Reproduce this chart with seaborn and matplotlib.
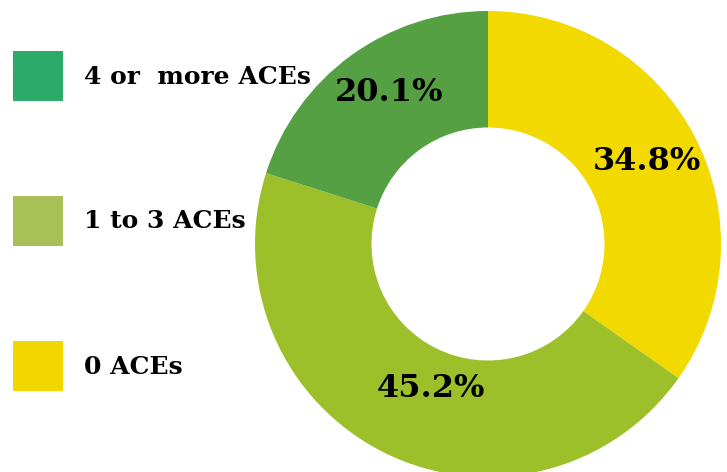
import matplotlib
matplotlib.use("Agg")
import matplotlib.pyplot as plt
from matplotlib.patches import Patch
import seaborn as sns

# Data
slice_labels = ["0 ACEs", "1 to 3 ACEs", "4 or  more ACEs"]
slice_values = [34.8, 45.2, 20.1]
slice_colors = ["#F2D900", "#9DC02A", "#55A043"]

legend_labels = ["4 or  more ACEs", "1 to 3 ACEs", "0 ACEs"]
legend_colors = ["#2BAA68", "#A9BF58", "#F2D600"]

sns.set_theme(style="white")
plt.rcParams["font.family"] = ["DejaVu Serif"]
plt.rcParams["text.color"] = "black"

W, H = 727, 472
fig = plt.figure(figsize=(W / 100, H / 100), dpi=100)
fig.patch.set_facecolor("white")

cx, cy, R = 488, 244, 233
ax = fig.add_axes([(cx - R) / W, 1 - (cy + R) / H, 2 * R / W, 2 * R / H])
ax.set_axis_off()

wedges, texts, autotexts = ax.pie(
    slice_values,
    colors=slice_colors,
    startangle=90,
    counterclock=False,
    radius=1,
    autopct=lambda p: f"{p:.1f}%",
    pctdistance=0.77,
    wedgeprops=dict(width=0.5, edgecolor="none"),
    textprops=dict(fontsize=23, fontweight="bold", color="black"),
)
for t, v in zip(autotexts, slice_values):
    t.set_text(f"{v:.1f}%")
x, y = autotexts[1].get_position()
autotexts[1].set_position((x + 0.1, y + 0.07))
x, y = autotexts[2].get_position()
autotexts[2].set_position((x + 0.03, y + 0.03))
ax.set_xlim(-1, 1)
ax.set_ylim(-1, 1)
ax.set_aspect("equal")

handles = [Patch(facecolor=c, edgecolor="none") for c in legend_colors]
fs = 18
fs_px = fs * 100 / 72
hh = (50 / fs_px - 0.245) / 0.65
row = 145
fig.legend(
    handles, legend_labels,
    loc="upper left",
    bbox_to_anchor=(13 / W, 1 - 51 / H),
    bbox_transform=fig.transFigure,
    frameon=False,
    prop=dict(size=fs, weight="bold"),
    labelcolor="black",
    handlelength=50 / fs_px,
    handleheight=hh,
    handletextpad=0.85,
    labelspacing=(row - 50) / fs_px,
    borderpad=0,
    borderaxespad=0,
)

fig.savefig("out.png", dpi=100, facecolor="white")
